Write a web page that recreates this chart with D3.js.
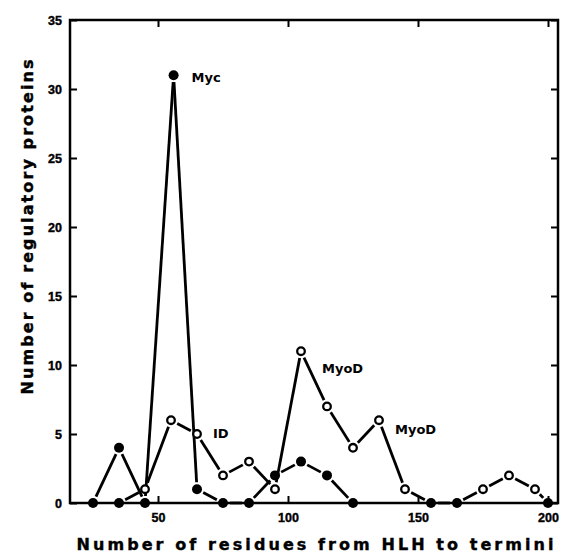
<!DOCTYPE html>
<html>
<head>
<meta charset="utf-8">
<script src="https://cdn.jsdelivr.net/npm/d3@7"></script>
<style>
  html, body { margin: 0; padding: 0; background: #fff; }
  svg { display: block; font-family: "DejaVu Sans", sans-serif; font-weight: bold; }
</style>
</head>
<body>
<div id="chart"></div>
<script>
// residues from HLH to terminus (bin centres) and protein counts
const xTicks = [50, 100, 150, 200];
const yTicks = [0, 5, 10, 15, 20, 25, 30, 35];

const mycResidues = [25, 35, 45, 56, 65, 75, 85, 95, 105, 115, 125];
const mycCounts = [0, 4, 0, 31, 1, 0, 0, 2, 3, 2, 0];

const myoResidues = [35, 45, 55, 65, 75, 85, 95, 105, 115, 125, 135, 145, 155, 165, 175, 185, 195, 200];
const myoCounts = [0, 1, 6, 5, 2, 3, 1, 11, 7, 4, 6, 1, 0, 0, 1, 2, 1, 0];

const noteText = ["Myc", "ID", "MyoD", "MyoD"];
const noteAnchor = [[56, 31], [65, 5], [105, 11], [135, 6]];

const xTitle = "Number of residues from HLH to termini";
const yTitle = "Number of regulatory proteins";

const width = 565;
const height = 556;
const margin = { top: 20, right: 7, bottom: 53, left: 70 };

const svg = d3
  .select("#chart")
  .append("svg")
  .attr("width", width)
  .attr("height", height)
  .attr("viewBox", `0 0 ${width} ${height}`);

const xScale = d3.scaleLinear().domain([16.15, 203.85]).range([margin.left, width - margin.right]);
const yScale = d3.scaleLinear().domain([0, 35]).range([height - margin.bottom, margin.top]);

function styleAxis(g, showText) {
  g.select(".domain").remove();
  g.selectAll(".tick line").attr("stroke", "#000").attr("stroke-width", 2);
  g.selectAll(".tick text")
    .attr("fill", "#000")
    .attr("stroke", "#000")
    .attr("stroke-width", 0.4)
    .style("font-size", "12.5px")
    .style("font-weight", "bold")
    .style("display", showText ? null : "none");
}

svg
  .append("g")
  .attr("transform", `translate(${margin.left}, 0)`)
  .call(d3.axisLeft(yScale).tickValues(yTicks).tickSizeInner(-7).tickSizeOuter(0).tickPadding(8))
  .call((g) => styleAxis(g, true));

svg
  .append("g")
  .attr("transform", `translate(${width - margin.right}, 0)`)
  .call(d3.axisRight(yScale).tickValues(yTicks).tickSizeInner(-7).tickSizeOuter(0))
  .call((g) => styleAxis(g, false));

svg
  .append("g")
  .attr("transform", `translate(0, ${height - margin.bottom})`)
  .call(d3.axisBottom(xScale).tickValues(xTicks).tickSizeInner(-7).tickSizeOuter(0).tickPadding(10))
  .call((g) => styleAxis(g, true));

svg
  .append("g")
  .attr("transform", `translate(0, ${margin.top})`)
  .call(d3.axisTop(xScale).tickValues(xTicks).tickSizeInner(-7).tickSizeOuter(0))
  .call((g) => styleAxis(g, false));

svg
  .append("rect")
  .attr("x", margin.left)
  .attr("y", margin.top)
  .attr("width", width - margin.left - margin.right)
  .attr("height", height - margin.top - margin.bottom)
  .attr("fill", "none")
  .attr("stroke", "#000")
  .attr("stroke-width", 2.5);

// lines stop short of the markers, like the original plot
function drawSeries(xs, ys, open) {
  const pts = xs.map((x, i) => [xScale(x), yScale(ys[i])]);
  const gap = 7;
  const segs = d3.pairs(pts).map(([a, b]) => {
    const dx = b[0] - a[0];
    const dy = b[1] - a[1];
    const len = Math.hypot(dx, dy);
    const ux = dx / len;
    const uy = dy / len;
    return [a[0] + ux * gap, a[1] + uy * gap, b[0] - ux * gap, b[1] - uy * gap];
  });

  svg
    .append("g")
    .selectAll("line")
    .data(segs)
    .enter()
    .append("line")
    .attr("x1", (d) => d[0])
    .attr("y1", (d) => d[1])
    .attr("x2", (d) => d[2])
    .attr("y2", (d) => d[3])
    .attr("stroke", "#000")
    .attr("stroke-width", 2.8)
    .attr("stroke-linecap", "butt");

  svg
    .append("g")
    .selectAll("circle")
    .data(pts.map((p, i) => ({ p, v: ys[i] })))
    .enter()
    .append("circle")
    .attr("cx", (d) => d.p[0])
    .attr("cy", (d) => d.p[1])
    .attr("r", (d) => (open && d.v > 0 ? 3.8 : 5))
    .attr("fill", (d) => (open && d.v > 0 ? "#fff" : "#000"))
    .attr("stroke", "#000")
    .attr("stroke-width", (d) => (open && d.v > 0 ? 2.3 : 0));
}

drawSeries(mycResidues, mycCounts, false);
drawSeries(myoResidues, myoCounts, true);

const noteOffset = [[18, 7], [16, 4], [21, 22], [16, 14]];
svg
  .append("g")
  .selectAll("text")
  .data(noteText)
  .enter()
  .append("text")
  .attr("x", (d, i) => xScale(noteAnchor[i][0]) + noteOffset[i][0])
  .attr("y", (d, i) => yScale(noteAnchor[i][1]) + noteOffset[i][1])
  .style("font-size", "13px")
  .text((d) => d);

svg
  .append("text")
  .attr("x", (margin.left + width - margin.right) / 2 + 1)
  .attr("y", 550)
  .attr("text-anchor", "middle")
  .attr("textLength", 477)
  .attr("lengthAdjust", "spacing")
  .attr("stroke", "#000")
  .attr("stroke-width", 0.4)
  .style("font-size", "16px")
  .text(xTitle);

svg
  .append("text")
  .attr("transform", "translate(33, 227) rotate(-90)")
  .attr("text-anchor", "middle")
  .attr("textLength", 335)
  .attr("lengthAdjust", "spacing")
  .attr("stroke", "#000")
  .attr("stroke-width", 0.4)
  .style("font-size", "16px")
  .text(yTitle);
</script>
</body>
</html>
